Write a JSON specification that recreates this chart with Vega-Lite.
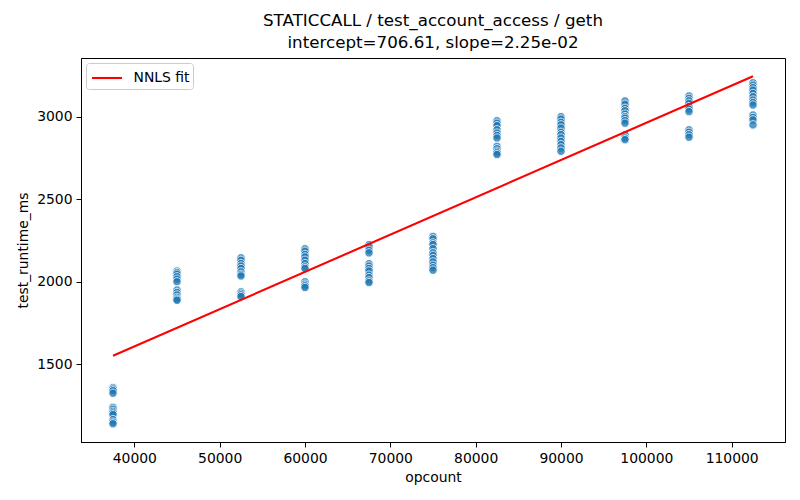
{
  "$schema": "https://vega.github.io/schema/vega-lite/v6.json",
  "autosize": "none",
  "width": 704,
  "height": 384,
  "padding": {"left": 81, "top": 58, "right": 15, "bottom": 58},
  "background": "white",
  "title": {
    "text": ["STATICCALL / test_account_access / geth", "intercept=706.61, slope=2.25e-02"],
    "anchor": "middle",
    "font": "DejaVu Sans",
    "fontSize": 16.7,
    "fontWeight": "normal",
    "color": "black",
    "lineHeight": 22,
    "offset": 6
  },
  "datasets": {
    "points": [
      {"opcount": 37500, "test_runtime_ms": 1360}, {"opcount": 37500, "test_runtime_ms": 1350}, {"opcount": 37500, "test_runtime_ms": 1340}, {"opcount": 37500, "test_runtime_ms": 1325},
      {"opcount": 37500, "test_runtime_ms": 1240}, {"opcount": 37500, "test_runtime_ms": 1228}, {"opcount": 37500, "test_runtime_ms": 1215}, {"opcount": 37500, "test_runtime_ms": 1205},
      {"opcount": 37500, "test_runtime_ms": 1195}, {"opcount": 37500, "test_runtime_ms": 1165}, {"opcount": 37500, "test_runtime_ms": 1150}, {"opcount": 37500, "test_runtime_ms": 1140},
      {"opcount": 45000, "test_runtime_ms": 2065}, {"opcount": 45000, "test_runtime_ms": 2055}, {"opcount": 45000, "test_runtime_ms": 2045}, {"opcount": 45000, "test_runtime_ms": 2030},
      {"opcount": 45000, "test_runtime_ms": 2015}, {"opcount": 45000, "test_runtime_ms": 2000}, {"opcount": 45000, "test_runtime_ms": 1950}, {"opcount": 45000, "test_runtime_ms": 1935},
      {"opcount": 45000, "test_runtime_ms": 1920}, {"opcount": 45000, "test_runtime_ms": 1905}, {"opcount": 45000, "test_runtime_ms": 1895}, {"opcount": 45000, "test_runtime_ms": 1888},
      {"opcount": 52500, "test_runtime_ms": 2145}, {"opcount": 52500, "test_runtime_ms": 2130}, {"opcount": 52500, "test_runtime_ms": 2110}, {"opcount": 52500, "test_runtime_ms": 2095},
      {"opcount": 52500, "test_runtime_ms": 2080}, {"opcount": 52500, "test_runtime_ms": 2060}, {"opcount": 52500, "test_runtime_ms": 2045}, {"opcount": 52500, "test_runtime_ms": 2035},
      {"opcount": 52500, "test_runtime_ms": 1940}, {"opcount": 52500, "test_runtime_ms": 1930}, {"opcount": 52500, "test_runtime_ms": 1920}, {"opcount": 52500, "test_runtime_ms": 1910},
      {"opcount": 60000, "test_runtime_ms": 2200}, {"opcount": 60000, "test_runtime_ms": 2185}, {"opcount": 60000, "test_runtime_ms": 2165}, {"opcount": 60000, "test_runtime_ms": 2150},
      {"opcount": 60000, "test_runtime_ms": 2130}, {"opcount": 60000, "test_runtime_ms": 2110}, {"opcount": 60000, "test_runtime_ms": 2090}, {"opcount": 60000, "test_runtime_ms": 2080},
      {"opcount": 60000, "test_runtime_ms": 2000}, {"opcount": 60000, "test_runtime_ms": 1985}, {"opcount": 60000, "test_runtime_ms": 1975}, {"opcount": 60000, "test_runtime_ms": 1965},
      {"opcount": 67500, "test_runtime_ms": 2225}, {"opcount": 67500, "test_runtime_ms": 2210}, {"opcount": 67500, "test_runtime_ms": 2190}, {"opcount": 67500, "test_runtime_ms": 2175},
      {"opcount": 67500, "test_runtime_ms": 2110}, {"opcount": 67500, "test_runtime_ms": 2095}, {"opcount": 67500, "test_runtime_ms": 2080}, {"opcount": 67500, "test_runtime_ms": 2065},
      {"opcount": 67500, "test_runtime_ms": 2040}, {"opcount": 67500, "test_runtime_ms": 2025}, {"opcount": 67500, "test_runtime_ms": 2005}, {"opcount": 67500, "test_runtime_ms": 1995},
      {"opcount": 75000, "test_runtime_ms": 2275}, {"opcount": 75000, "test_runtime_ms": 2260}, {"opcount": 75000, "test_runtime_ms": 2235}, {"opcount": 75000, "test_runtime_ms": 2225},
      {"opcount": 75000, "test_runtime_ms": 2200}, {"opcount": 75000, "test_runtime_ms": 2175}, {"opcount": 75000, "test_runtime_ms": 2160}, {"opcount": 75000, "test_runtime_ms": 2140},
      {"opcount": 75000, "test_runtime_ms": 2120}, {"opcount": 75000, "test_runtime_ms": 2100}, {"opcount": 75000, "test_runtime_ms": 2085}, {"opcount": 75000, "test_runtime_ms": 2070},
      {"opcount": 82500, "test_runtime_ms": 2975}, {"opcount": 82500, "test_runtime_ms": 2960}, {"opcount": 82500, "test_runtime_ms": 2945}, {"opcount": 82500, "test_runtime_ms": 2920},
      {"opcount": 82500, "test_runtime_ms": 2900}, {"opcount": 82500, "test_runtime_ms": 2885}, {"opcount": 82500, "test_runtime_ms": 2870}, {"opcount": 82500, "test_runtime_ms": 2820},
      {"opcount": 82500, "test_runtime_ms": 2805}, {"opcount": 82500, "test_runtime_ms": 2790}, {"opcount": 82500, "test_runtime_ms": 2780}, {"opcount": 82500, "test_runtime_ms": 2770},
      {"opcount": 90000, "test_runtime_ms": 3000}, {"opcount": 90000, "test_runtime_ms": 2985}, {"opcount": 90000, "test_runtime_ms": 2965}, {"opcount": 90000, "test_runtime_ms": 2950},
      {"opcount": 90000, "test_runtime_ms": 2930}, {"opcount": 90000, "test_runtime_ms": 2905}, {"opcount": 90000, "test_runtime_ms": 2890}, {"opcount": 90000, "test_runtime_ms": 2870},
      {"opcount": 90000, "test_runtime_ms": 2850}, {"opcount": 90000, "test_runtime_ms": 2830}, {"opcount": 90000, "test_runtime_ms": 2810}, {"opcount": 90000, "test_runtime_ms": 2790},
      {"opcount": 97500, "test_runtime_ms": 3095}, {"opcount": 97500, "test_runtime_ms": 3075}, {"opcount": 97500, "test_runtime_ms": 3050}, {"opcount": 97500, "test_runtime_ms": 3035},
      {"opcount": 97500, "test_runtime_ms": 3015}, {"opcount": 97500, "test_runtime_ms": 3000}, {"opcount": 97500, "test_runtime_ms": 2990}, {"opcount": 97500, "test_runtime_ms": 2975},
      {"opcount": 97500, "test_runtime_ms": 2960}, {"opcount": 97500, "test_runtime_ms": 2890}, {"opcount": 97500, "test_runtime_ms": 2870}, {"opcount": 97500, "test_runtime_ms": 2860},
      {"opcount": 105000, "test_runtime_ms": 3125}, {"opcount": 105000, "test_runtime_ms": 3110}, {"opcount": 105000, "test_runtime_ms": 3095}, {"opcount": 105000, "test_runtime_ms": 3080},
      {"opcount": 105000, "test_runtime_ms": 3060}, {"opcount": 105000, "test_runtime_ms": 3045}, {"opcount": 105000, "test_runtime_ms": 3030}, {"opcount": 105000, "test_runtime_ms": 2920},
      {"opcount": 105000, "test_runtime_ms": 2905}, {"opcount": 105000, "test_runtime_ms": 2890}, {"opcount": 105000, "test_runtime_ms": 2875},
      {"opcount": 112500, "test_runtime_ms": 3205}, {"opcount": 112500, "test_runtime_ms": 3190}, {"opcount": 112500, "test_runtime_ms": 3175}, {"opcount": 112500, "test_runtime_ms": 3160},
      {"opcount": 112500, "test_runtime_ms": 3140}, {"opcount": 112500, "test_runtime_ms": 3120}, {"opcount": 112500, "test_runtime_ms": 3100}, {"opcount": 112500, "test_runtime_ms": 3085},
      {"opcount": 112500, "test_runtime_ms": 3070}, {"opcount": 112500, "test_runtime_ms": 3010}, {"opcount": 112500, "test_runtime_ms": 2995}, {"opcount": 112500, "test_runtime_ms": 2980},
      {"opcount": 112500, "test_runtime_ms": 2950}
    ],
    "fit": [
      {"opcount": 37500, "test_runtime_ms": 1552, "series": "NNLS fit"},
      {"opcount": 112500, "test_runtime_ms": 3245, "series": "NNLS fit"}
    ]
  },
  "layer": [
    {
      "description": "scatter",
      "data": {"name": "points"},
      "mark": {"type": "point", "shape": "circle", "filled": true, "size": 72, "color": "#1f77b4", "opacity": 0.75, "stroke": "white", "strokeWidth": 1},
      "encoding": {
        "x": {
          "field": "opcount",
          "type": "quantitative",
          "scale": {"domain": [33750, 116250], "nice": false, "zero": false},
          "axis": {"values": [40000, 50000, 60000, 70000, 80000, 90000, 100000, 110000], "format": "d"},
          "title": "opcount"
        },
        "y": {
          "field": "test_runtime_ms",
          "type": "quantitative",
          "scale": {"domain": [1030, 3355], "nice": false, "zero": false},
          "axis": {"values": [1500, 2000, 2500, 3000], "format": "d"},
          "title": "test_runtime_ms"
        }
      }
    },
    {
      "description": "NNLS fit line",
      "data": {"name": "fit"},
      "mark": {"type": "line", "strokeWidth": 2.1},
      "encoding": {
        "x": {"field": "opcount", "type": "quantitative"},
        "y": {"field": "test_runtime_ms", "type": "quantitative"},
        "color": {
          "field": "series",
          "type": "nominal",
          "scale": {"range": ["red"]},
          "legend": {
            "title": null,
            "orient": "top-left",
            "offset": 5,
            "padding": 3.5,
            "fillColor": "white",
            "strokeColor": "#cccccc",
            "cornerRadius": 3,
            "symbolType": "M-0.9,0L2.1,0",
            "symbolSize": 400,
            "symbolStrokeWidth": 2.1,
            "labelFontSize": 13.9,
            "labelOffset": 21,
            "labelFont": "DejaVu Sans",
            "labelColor": "black"
          }
        }
      }
    }
  ],
  "config": {
    "font": "DejaVu Sans",
    "view": {"stroke": "black", "strokeWidth": 1},
    "axis": {
      "grid": false,
      "domainColor": "black",
      "tickColor": "black",
      "tickSize": 5,
      "labelPadding": 4,
      "labelFont": "DejaVu Sans",
      "labelFontSize": 13.9,
      "labelColor": "black",
      "titleFont": "DejaVu Sans",
      "titleFontSize": 13.9,
      "titleFontWeight": "normal",
      "titleColor": "black",
      "titlePadding": 6
    }
  }
}
